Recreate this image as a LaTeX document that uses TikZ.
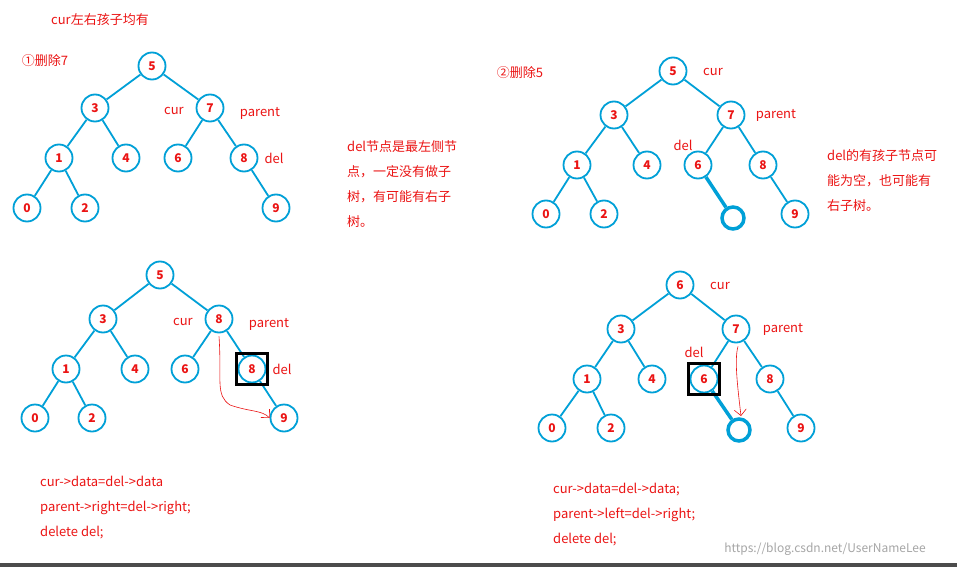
\documentclass[tikz,border=0pt]{standalone}
\usepackage{fontspec}
\setmainfont{Noto Sans CJK SC}
\usetikzlibrary{arrows.meta}
\definecolor{nb}{RGB}{0,160,215}
\definecolor{rd}{RGB}{235,20,20}
\tikzset{
 tn/.style={circle,draw=nb,line width=1.8pt,minimum size=27pt,inner sep=0pt,text=rd,font=\fontsize{12}{12}\selectfont\bfseries},
 en/.style={circle,draw=nb,line width=3.5pt,minimum size=22pt,inner sep=0pt},
 ed/.style={draw=nb,line width=1.8pt},
 lb/.style={text=rd,font=\fontsize{13}{15}\selectfont,inner sep=0pt},
 tx/.style={text=rd,font=\fontsize{13}{25}\selectfont,inner sep=0pt,anchor=north west,align=left},
 bx/.style={draw=black,line width=3.5pt,minimum size=31pt,inner sep=0pt},
}
\begin{document}
\begin{tikzpicture}[x=1pt,y=-1pt]
\useasboundingbox (0,0) rectangle (957,567);
\fill[white] (0,0) rectangle (957,567);
\fill[black!70] (0,563) rectangle (957,567);
% titles
\node[lb] (t0) at (100,20) {cur左右孩子均有};
\node[lb] (t1) at (45,61) {①删除7};
\node[lb] (t2) at (520,73) {②删除5};
% tree 1
\node[tn] (a5) at (152,66) {5};
\node[tn] (a3) at (95,108) {3};
\node[tn] (a7) at (210,108) {7};
\node[tn] (a1) at (59,158) {1};
\node[tn] (a4) at (126,158) {4};
\node[tn] (a6) at (178,158) {6};
\node[tn] (a8) at (244,158) {8};
\node[tn] (a0) at (27,208) {0};
\node[tn] (a2) at (85,208) {2};
\node[tn] (a9) at (276,208) {9};
\path[ed] (a5)--(a3) (a5)--(a7) (a3)--(a1) (a3)--(a4) (a7)--(a6) (a7)--(a8) (a1)--(a0) (a1)--(a2) (a8)--(a9);
\node[lb] (la1) at (174,111) {cur};
\node[lb] (la2) at (260,113) {parent};
\node[lb] (la3) at (274,158) {del};
\node[tx] (ta) at (347,140) {del节点是最左侧节\\点，一定没有做子\\树，有可能有右子\\树。};
% tree 2
\node[tn] (b5) at (673,71) {5};
\node[tn] (b3) at (614,115) {3};
\node[tn] (b7) at (731,115) {7};
\node[tn] (b1) at (577,165) {1};
\node[tn] (b4) at (647,165) {4};
\node[tn] (b6) at (698,165) {6};
\node[tn] (b8) at (763,165) {8};
\node[tn] (b0) at (546,214) {0};
\node[tn] (b2) at (604,214) {2};
\node[tn] (b9) at (795,214) {9};
\node[en] (be) at (733,218) {};
\path[ed] (b5)--(b3) (b5)--(b7) (b3)--(b1) (b3)--(b4) (b7)--(b6) (b7)--(b8) (b1)--(b0) (b1)--(b2) (b8)--(b9);
\draw[nb,line width=3.5pt] (b6)--(be);
\node[lb] (lb1) at (713,72) {cur};
\node[lb] (lb2) at (776,115) {parent};
\node[lb] (lb3) at (683,145) {del};
\node[tx] (tb) at (827,149) {del的有孩子节点可\\能为空，也可能有\\右子树。};
% tree 3
\node[tn] (c5) at (160,275) {5};
\node[tn] (c3) at (103,319) {3};
\node[tn] (c8) at (219,319) {8};
\node[tn] (c1) at (66,369) {1};
\node[tn] (c4) at (135,369) {4};
\node[tn] (c6) at (185,369) {6};
\node[tn] (cd) at (252,369) {8};
\node[tn] (c0) at (35,418) {0};
\node[tn] (c2) at (92,418) {2};
\node[tn] (c9) at (284,418) {9};
\path[ed] (c5)--(c3) (c5)--(c8) (c3)--(c1) (c3)--(c4) (c8)--(c6) (c8)--(cd) (c1)--(c0) (c1)--(c2) (cd)--(c9);
\node[bx] (cbx) at (252,369) {};
\node[lb] (lc1) at (183,322) {cur};
\node[lb] (lc2) at (269,324) {parent};
\node[lb] (lc3) at (282,369) {del};
\draw[rd,line width=0.6pt,-{Straight Barb[length=6pt]}] (c8.south) ++(0,3) .. controls (222,380) and (215,395) .. (230,405) .. controls (250,412) and (262,410) .. (c9.west);
\node[tx] (tc) at (40,476) {cur->data=del->data\\parent->right=del->right;\\delete del;};
% tree 4
\node[tn] (d6) at (680,285) {6};
\node[tn] (d3) at (621,329) {3};
\node[tn] (d7) at (736,329) {7};
\node[tn] (d1) at (587,379) {1};
\node[tn] (d4) at (652,379) {4};
\node[tn] (dd) at (704,379) {6};
\node[tn] (d8) at (770,379) {8};
\node[tn] (d0) at (552,428) {0};
\node[tn] (d2) at (611,428) {2};
\node[tn] (d9) at (801,428) {9};
\node[en] (de) at (739,430) {};
\path[ed] (d6)--(d3) (d6)--(d7) (d3)--(d1) (d3)--(d4) (d7)--(dd) (d7)--(d8) (d1)--(d0) (d1)--(d2) (d8)--(d9);
\draw[nb,line width=3.5pt] (dd)--(de);
\node[bx] (dbx) at (704,379) {};
\node[lb] (ld1) at (720,286) {cur};
\node[lb] (ld2) at (783,329) {parent};
\node[lb] (ld3) at (694,352) {del};
\coordinate (dend) at (741,416);
\draw[rd,line width=0.6pt,-{Straight Barb[length=6pt]}] (d7.south) ++(2,3) .. controls (734,360) and (738,390) .. (dend);
\node[tx] (td) at (553,483) {cur->data=del->data;\\parent->left=del->right;\\delete del;};
\node[text=black!35,font=\fontsize{12}{12}\selectfont,inner sep=0pt] (wm) at (825,549) {https://blog.csdn.net/UserNameLee};
\end{tikzpicture}
\end{document}
